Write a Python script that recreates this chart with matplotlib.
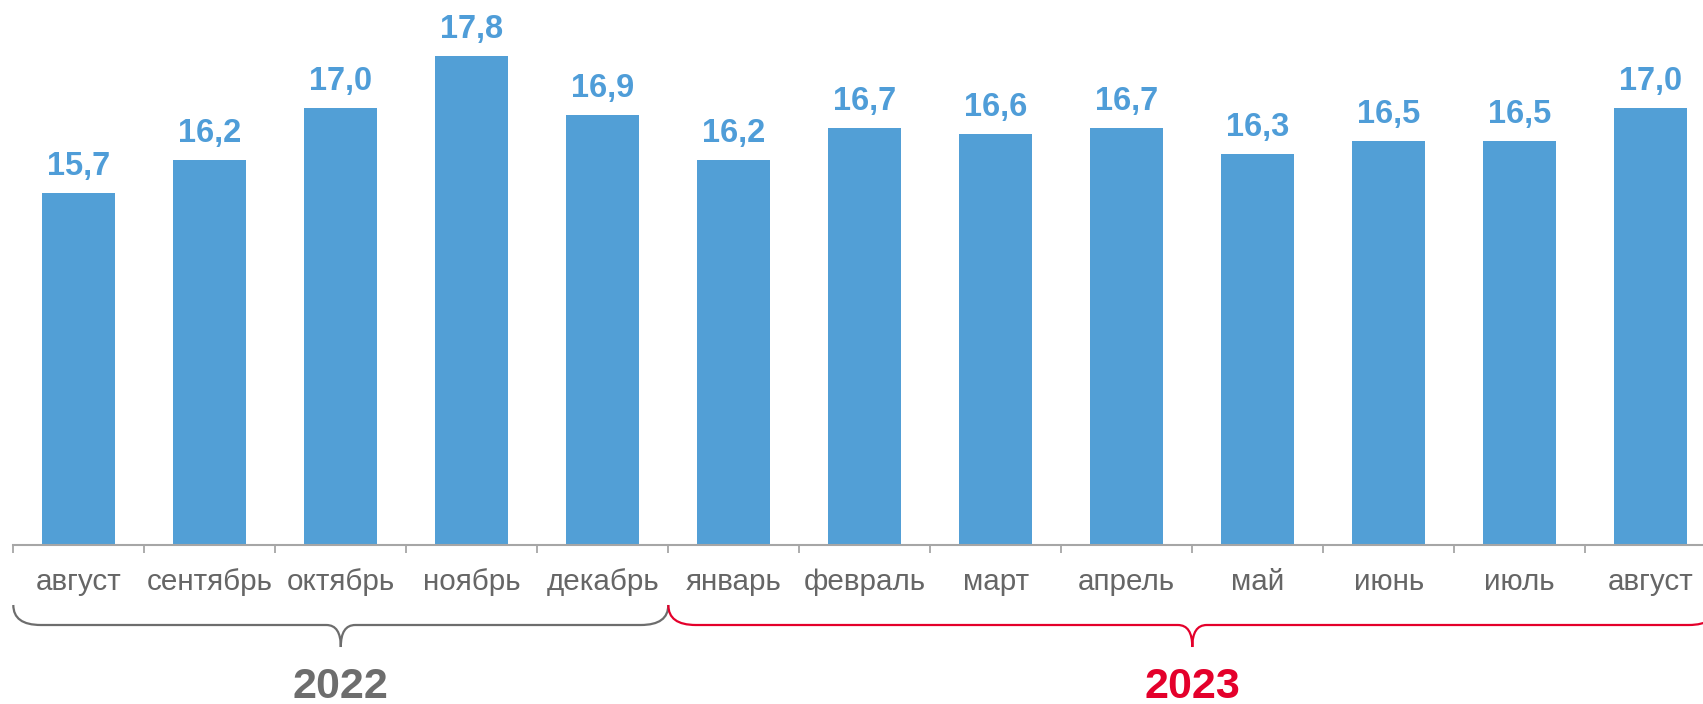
import matplotlib.pyplot as plt
import matplotlib.transforms as mtransforms
from matplotlib import font_manager
from matplotlib.path import Path
from matplotlib.patches import PathPatch
import numpy as np

plt.rcParams['font.family'] = ['Liberation Sans', 'DejaVu Sans']

months = ['август', 'сентябрь', 'октябрь', 'ноябрь', 'декабрь', 'январь', 'февраль',
          'март', 'апрель', 'май', 'июнь', 'июль', 'август']
values = [15.7, 16.2, 17.0, 17.8, 16.9, 16.2, 16.7, 16.6, 16.7, 16.3, 16.5, 16.5, 17.0]
years = ['2022', '2023']
year_spans = [(-0.5, 4.5), (4.5, 12.5)]
year_colors = ['#6d6d6d', '#e4002b']

# narrow font for month labels if there is one
names = {f.name for f in font_manager.fontManager.ttflist}
if 'Liberation Sans Narrow' in names:
    month_font, month_size = 'Liberation Sans Narrow', 23.5
else:
    month_font, month_size = 'Liberation Sans', 21.3

bar_color = '#529fd6'
W, H = 1703, 704
ymin, ymax = 10.27, 18.5
px_per_unit = 64.9
base_px = 545  # baseline from top
ax_h_px = (ymax - ymin) * px_per_unit

fig = plt.figure(figsize=(W / 100, H / 100), dpi=100)
ax = fig.add_axes([13.3 / W, (H - base_px) / H, 13 * 131 / W, ax_h_px / H])

x = np.arange(len(values))
ax.bar(x, values, width=0.557, color=bar_color)
ax.set_xlim(-0.5, 12.5)
ax.set_ylim(ymin, ymax)

for xi, v in zip(x, values):
    ax.annotate(f'{v:.1f}'.replace('.', ','), (xi, v), xytext=(0, 13),
                textcoords='offset points', ha='center', va='baseline',
                fontsize=23.5, fontweight='bold', color='#4f9dd8')

for s in ['top', 'left', 'right']:
    ax.spines[s].set_visible(False)
ax.spines['bottom'].set_color('#a6a6a6')
ax.spines['bottom'].set_linewidth(1.5)
ax.set_yticks([])
ax.set_xticks([])
ax.set_xticks(np.arange(-0.5, 13, 1), minor=True)
ax.tick_params(axis='x', which='minor', length=6, width=1.3, color='#a6a6a6')

trans = mtransforms.blended_transform_factory(ax.transData, ax.transAxes)
def fy(px):
    return -px / ax_h_px

for xi, m in zip(x, months):
    ax.text(xi, fy(45), m, transform=trans, ha='center', va='baseline',
            fontsize=month_size, family=month_font, color='#666666')

# curly braces under the month labels
y_tip, y_line, y_pt = fy(60), fy(80), fy(102)
r_end, r_mid = 0.21, 0.11
for (x0, x1), name, col in zip(year_spans, years, year_colors):
    xm = (x0 + x1) / 2
    verts = [(x0, y_tip), (x0, y_line), (x0 + r_end, y_line),
             (xm - r_mid, y_line), (xm, y_line), (xm, y_pt),
             (xm, y_line), (xm + r_mid, y_line),
             (x1 - r_end, y_line), (x1, y_line), (x1, y_tip)]
    codes = [Path.MOVETO, Path.CURVE3, Path.CURVE3,
             Path.LINETO, Path.CURVE3, Path.CURVE3,
             Path.CURVE3, Path.CURVE3,
             Path.LINETO, Path.CURVE3, Path.CURVE3]
    ax.add_patch(PathPatch(Path(verts, codes), facecolor='none', edgecolor=col,
                           lw=1.6, transform=trans, clip_on=False))
    ax.text(xm, fy(153), name, transform=trans, ha='center', va='baseline',
            fontsize=31, fontweight='bold', color=col)

fig.savefig('out.png', dpi=100)
